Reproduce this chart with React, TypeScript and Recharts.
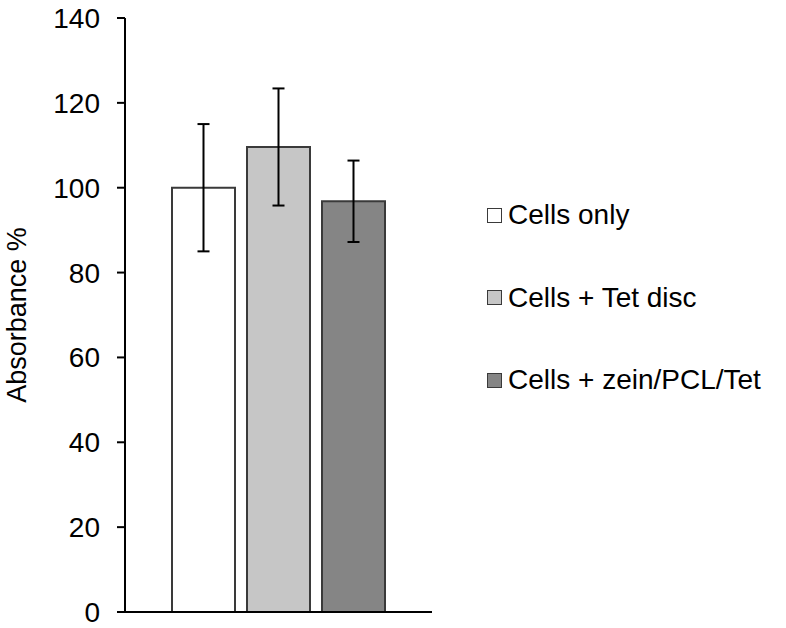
import { BarChart, Bar, XAxis, YAxis, ErrorBar, Label } from 'recharts';

const seriesNames = ['Cells only', 'Cells + Tet disc', 'Cells + zein/PCL/Tet'];
const seriesKeys = ['cells', 'tetDisc', 'zeinPclTet'];
const means = [100, 109.6, 96.8];
const errors = [15, 13.8, 9.6];
const yTicks = [0, 20, 40, 60, 80, 100, 120, 140];

const fills = ['#ffffff', '#c6c6c6', '#858585'];
const outline = '#3a3a3a';
const font = 'Liberation Sans, Arial, Helvetica, sans-serif';

// one category, three series side by side (Excel style)
const row: Record<string, any> = { name: '' };
seriesKeys.forEach((k, i) => {
  row[k] = means[i];
  row[k + 'Err'] = errors[i];
});
const chartData = [row];

export default function App() {
  return (
    <div style={{ position: 'absolute', left: 0, top: 0, width: 786, height: 628, background: '#fff' }}>
      <BarChart
        width={786}
        height={628}
        data={chartData}
        margin={{ top: 18, right: 354, left: 0, bottom: 14 }}
        barGap={12}
        barCategoryGap={47}
      >
        <XAxis dataKey="name" tick={false} tickLine={false} height={2} axisLine={{ stroke: '#000', strokeWidth: 2 }} />
        <YAxis
          width={125}
          domain={[0, 140]}
          ticks={yTicks}
          interval={0}
          tickSize={8}
          tickMargin={17}
          axisLine={{ stroke: '#000', strokeWidth: 2 }}
          tickLine={{ stroke: '#000', strokeWidth: 2 }}
          tick={{ fill: '#000', fontSize: 28, fontFamily: font }}
        >
          <Label
            value="Absorbance %"
            angle={-90}
            position="insideLeft"
            offset={16}
            style={{ textAnchor: 'middle', fill: '#000', fontSize: 27, fontFamily: font }}
          />
        </YAxis>
        {seriesKeys.map((k, i) => (
          <Bar key={k} dataKey={k} fill={fills[i]} stroke={outline} strokeWidth={2} isAnimationActive={false}>
            <ErrorBar dataKey={k + 'Err'} width={6} stroke="#000" strokeWidth={2} direction="y" />
          </Bar>
        ))}
      </BarChart>
      <div style={{ position: 'absolute', left: 487, top: 195, fontFamily: font, fontSize: 28, color: '#000' }}>
        {seriesNames.map((n, i) => (
          <div key={n} style={{ display: 'flex', alignItems: 'center', height: 40, marginBottom: i < 2 ? 42.5 : 0 }}>
            <span
              style={{
                display: 'inline-block',
                width: 13,
                height: 13,
                background: fills[i],
                border: `1.5px solid ${outline}`,
                marginRight: 6,
              }}
            />
            <span>{n}</span>
          </div>
        ))}
      </div>
    </div>
  );
}
